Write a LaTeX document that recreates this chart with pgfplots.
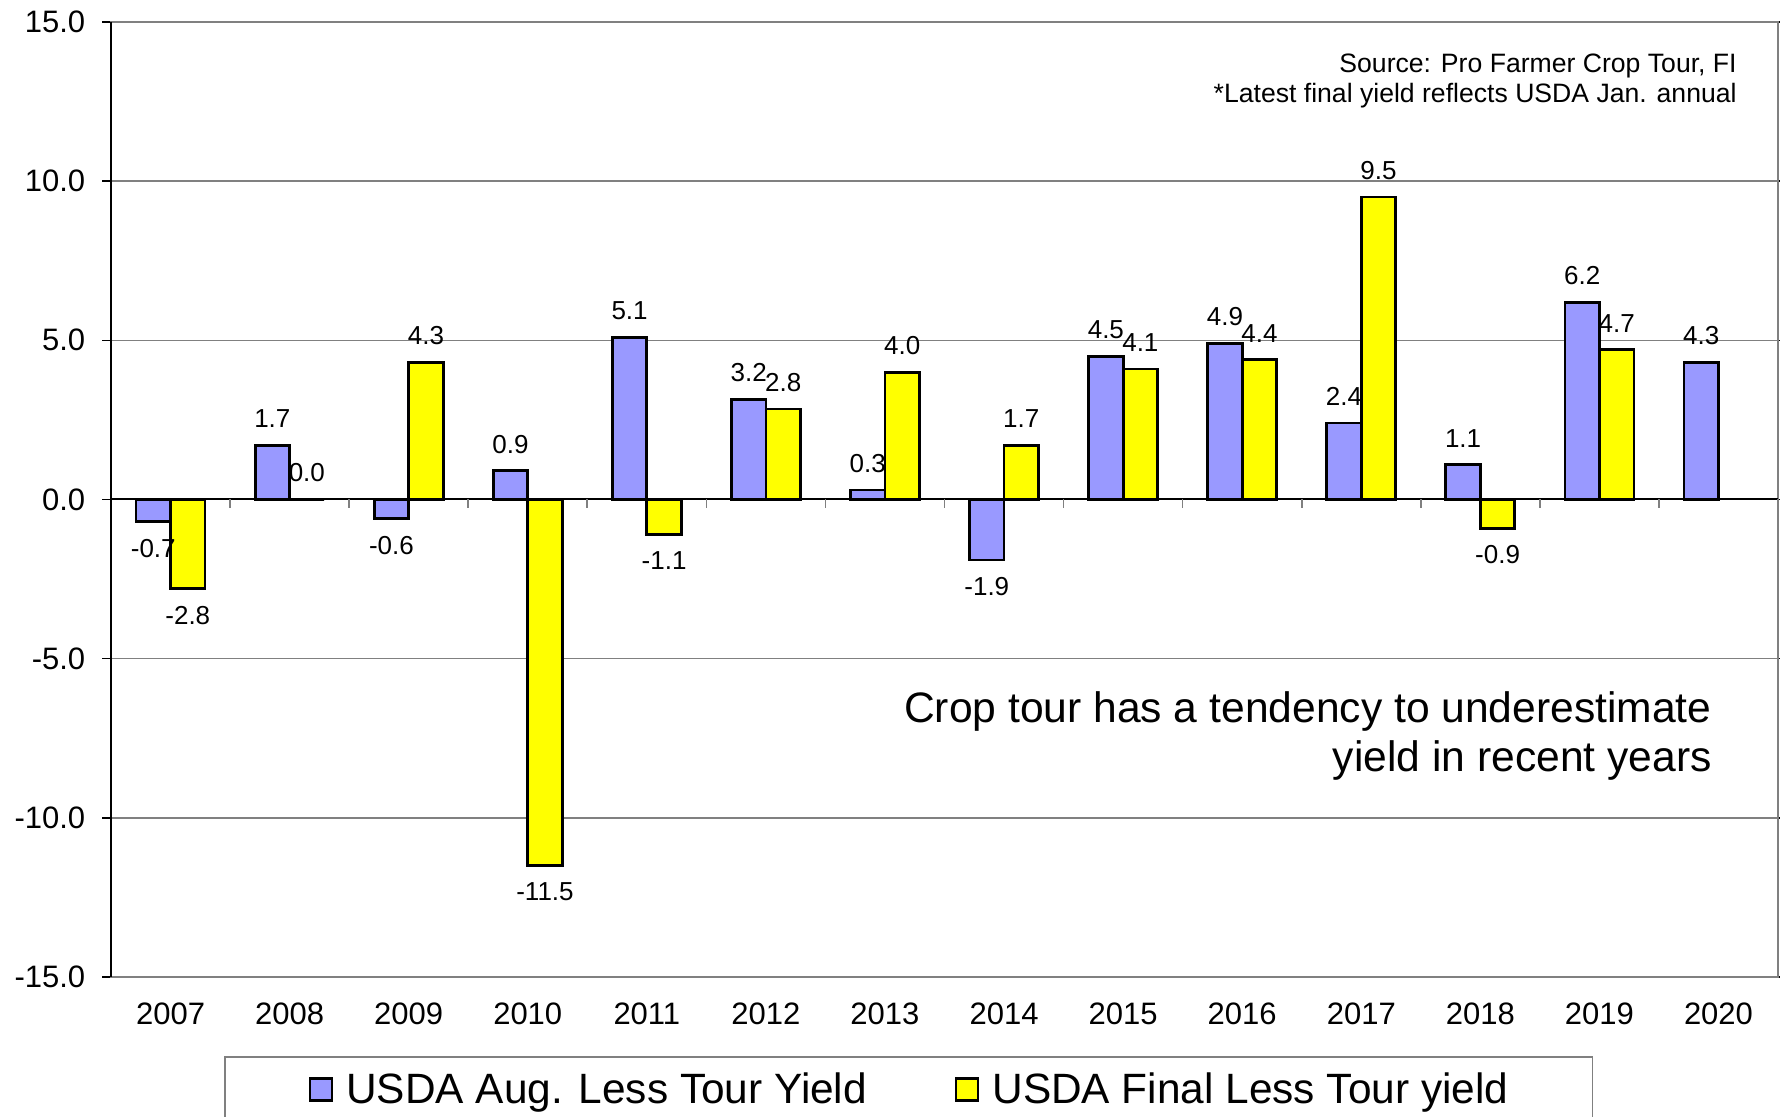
\documentclass[border=0pt]{standalone}
\usepackage{fontspec}
\setmainfont{Liberation Sans}
\usepackage{pgfplots}
\pgfplotsset{compat=1.18}
\definecolor{purp}{HTML}{9999FF}
\definecolor{yel}{HTML}{FFFF00}
\definecolor{gridc}{HTML}{808080}

\begin{document}
\begin{tikzpicture}
\useasboundingbox (0,0) rectangle (890pt,558.5pt);
\begin{axis}[
  at={(55.5pt,70pt)}, anchor=south west,
  scale only axis, width=833.5pt, height=477.5pt,
  xmin=-0.5, xmax=13.5, ymin=-15, ymax=15,
  ybar, bar width=17.25pt,
  xtick={0,1,2,3,4,5,6,7,8,9,10,11,12,13},
  xticklabels={2007,2008,2009,2010,2011,2012,2013,2014,2015,2016,2017,2018,2019,2020},
  xtick style={draw=none},
  xticklabel style={font=\fontsize{15.5pt}{18pt}\selectfont, anchor=north, inner sep=0pt, yshift=-8pt},
  ytick={-15,-10,-5,0,5,10,15},
  yticklabels={-15.0,-10.0,-5.0,0.0,5.0,10.0,15.0},
  yticklabel style={font=\fontsize{15.5pt}{18pt}\selectfont, anchor=east, inner sep=0pt, xshift=-8.2pt},
  ytick style={draw=black, line width=0.8pt},
  tick align=outside, major tick length=4.5pt,
  ymajorgrids, grid style={draw=gridc, line width=0.8pt},
  axis line style={draw=gridc, line width=1pt},
  clip=false,
  nodes near coords={\pgfmathprintnumber[fixed,fixed zerofill,precision=1,assume math mode=true]{\pgfplotspointmeta}},
  nodes near coords align={vertical},
  every node near coord/.append style={text=black, font=\fontsize{13pt}{15pt}\selectfont, inner xsep=0pt, inner ysep=8pt},
  legend columns=2,
  legend cell align=left,
  legend style={at={(0.0678,0)}, anchor=north west, yshift=-39.5pt,
    draw=gridc, line width=0.8pt,
    font=\fontsize{21.2pt}{24pt}\selectfont,
    inner xsep=42pt, inner ysep=8pt,
    nodes={inner sep=0pt},
    /tikz/every odd column/.append style={column sep=6.5pt},
    /tikz/every even column/.append style={column sep=44pt}},
]
\addplot[fill=purp, draw=black, line width=1.4pt, forget plot, bar shift=-8.625pt] coordinates {
(0,-0.7) (1,1.7) (2,-0.6) (3,0.9) (4,5.1) (5,3.15) (6,0.3) (7,-1.9) (8,4.5) (9,4.9) (10,2.4) (11,1.1) (12,6.2) (13,4.3)};
\addplot[fill=yel, draw=black, line width=1.4pt, forget plot, bar shift=8.625pt] coordinates {
(0,-2.8) (1,0.0) (2,4.3) (3,-11.5) (4,-1.1) (5,2.84) (6,4.0) (7,1.7) (8,4.1) (9,4.4) (10,9.5) (11,-0.9) (12,4.7)};
\addlegendimage{legend image code/.code={\draw[fill=purp,draw=black,line width=1.2pt] (0pt,-5.5pt) rectangle (11pt,5.5pt);}}
\addlegendentry{USDA Aug. Less Tour Yield}
\addlegendimage{legend image code/.code={\draw[fill=yel,draw=black,line width=1.2pt] (0pt,-5.5pt) rectangle (11pt,5.5pt);}}
\addlegendentry{USDA Final Less Tour yield}
\draw[black, line width=1pt] (axis cs:-0.5,0) -- (axis cs:13.5,0);
\pgfplotsinvokeforeach{-0.5,0.5,...,13.5}{\draw[gridc, line width=0.8pt] (axis cs:#1,0) -- ++(0pt,-4.5pt);}
\draw[black, line width=1pt] (rel axis cs:0,0) -- (rel axis cs:0,1);
\node[anchor=base east, font=\fontsize{21.3pt}{24pt}\selectfont, inner sep=0pt] at (rel axis cs:0.9604,0.266) {Crop tour has a tendency to underestimate};
\node[anchor=base east, font=\fontsize{21.3pt}{24pt}\selectfont, inner sep=0pt] at (rel axis cs:0.9604,0.2157) {yield in recent years};
\node[anchor=base east, font=\fontsize{13.3pt}{15pt}\selectfont, inner sep=0pt] at (rel axis cs:0.9754,0.9466) {Source: Pro Farmer Crop Tour, FI};
\node[anchor=base east, font=\fontsize{13.3pt}{15pt}\selectfont, inner sep=0pt] at (rel axis cs:0.9754,0.9152) {*Latest final yield reflects USDA Jan. annual};
\end{axis}
\end{tikzpicture}
\end{document}
